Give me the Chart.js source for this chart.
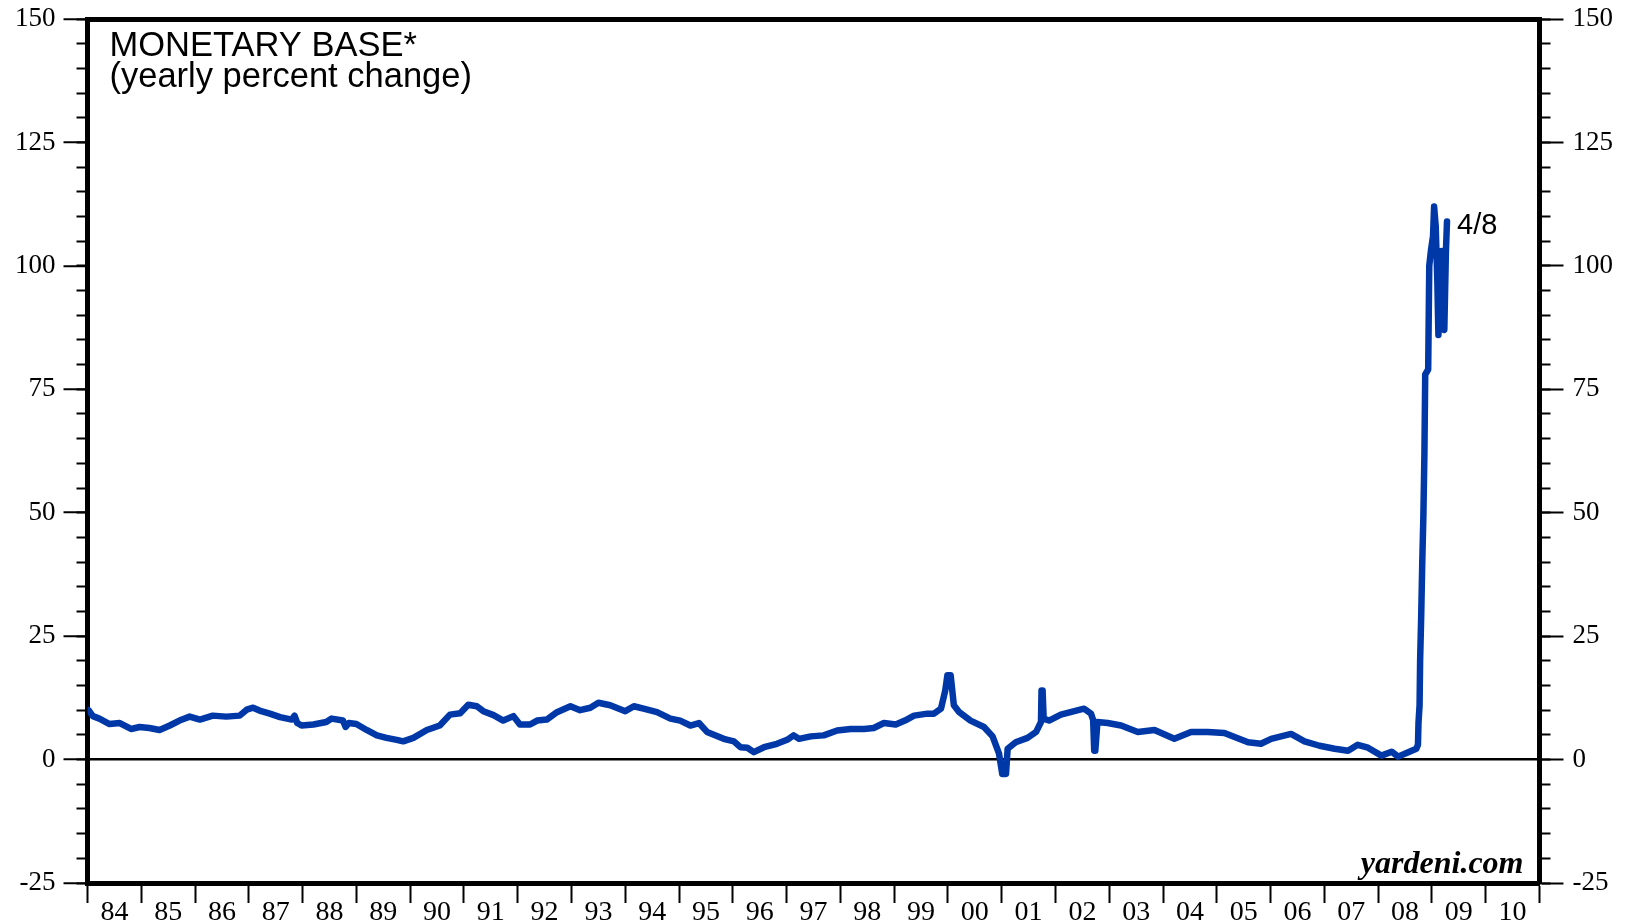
<!DOCTYPE html>
<html>
<head>
<meta charset="utf-8">
<script src="https://cdn.jsdelivr.net/npm/chart.js@4.4.1/dist/chart.umd.min.js"></script>
<style>
  html, body { margin: 0; padding: 0; background: #ffffff; }
  #wrap { width: 1630px; height: 924px; }
</style>
</head>
<body>
<div id="wrap"><canvas id="c" width="1630" height="924"></canvas></div>
<script>
// ---- Data ----
const titleLine1 = "MONETARY BASE*";
const titleLine2 = "(yearly percent change)";
const lastLabel = "4/8";
const sourceLabel = "yardeni.com";

const yearStarts = [1984,1985,1986,1987,1988,1989,1990,1991,1992,1993,1994,1995,1996,1997,
                    1998,1999,2000,2001,2002,2003,2004,2005,2006,2007,2008,2009,2010];
const yearLabels = ["84","85","86","87","88","89","90","91","92","93","94","95","96","97",
                    "98","99","00","01","02","03","04","05","06","07","08","09","10"];
const yTickStep = 25;
const yMinorStep = 5;
const yMin = -25;
const yMax = 150;

// decimal-year dates and yearly percent change of the monetary base
const dates = [
  1984.02,1984.10,1984.22,1984.41,1984.60,1984.81,1984.97,1985.15,1985.34,1985.53,
  1985.71,1985.90,1986.09,1986.33,1986.58,1986.83,1986.96,1987.08,1987.23,1987.39,
  1987.58,1987.80,1987.85,1987.90,1987.98,1988.20,1988.44,1988.54,1988.75,1988.80,
  1988.86,1989.00,1989.19,1989.38,1989.56,1989.75,1989.87,1990.06,1990.31,1990.55,
  1990.74,1990.93,1991.08,1991.24,1991.36,1991.55,1991.73,1991.92,1992.04,1992.23,
  1992.36,1992.54,1992.73,1992.98,1993.16,1993.35,1993.50,1993.72,1994.00,1994.16,
  1994.34,1994.59,1994.84,1995.02,1995.21,1995.37,1995.52,1995.83,1996.02,1996.14,
  1996.27,1996.39,1996.58,1996.82,1997.01,1997.13,1997.23,1997.45,1997.69,1997.94,
  1998.19,1998.44,1998.62,1998.81,1999.03,1999.20,1999.37,1999.62,1999.74,1999.87,
  1999.95,1999.99,2000.05,2000.11,2000.21,2000.42,2000.67,2000.83,2000.95,2001.01,
  2001.08,2001.11,2001.26,2001.48,2001.64,2001.73,2001.74,2001.76,2001.78,2001.88,
  2002.10,2002.35,2002.53,2002.66,2002.70,2002.72,2002.74,2002.78,2002.97,2003.22,
  2003.53,2003.84,2004.21,2004.52,2004.83,2005.14,2005.58,2005.82,2006.01,2006.38,
  2006.63,2006.91,2007.19,2007.44,2007.62,2007.81,2008.06,2008.25,2008.37,2008.56,
  2008.71,2008.74,2008.75,2008.77,2008.78,2008.80,2008.82,2008.84,2008.86,2008.875,
  2008.93,2008.95,2008.98,2009.02,2009.04,2009.07,2009.10,2009.12,2009.15,2009.18,
  2009.21,2009.23,2009.26,2009.28
];
const values = [
  10.0,8.8,8.3,7.2,7.4,6.2,6.6,6.4,6.0,6.9,
  7.9,8.7,8.1,8.9,8.7,8.9,10.1,10.5,9.8,9.3,
  8.6,8.1,8.9,7.4,6.9,7.1,7.6,8.3,7.9,6.6,
  7.4,7.2,6.0,4.9,4.4,4.0,3.7,4.4,6.0,6.9,
  9.1,9.4,11.1,10.8,9.8,9.0,7.9,8.8,7.1,7.1,
  7.9,8.1,9.6,10.8,10.0,10.5,11.5,11.0,9.8,10.8,
  10.3,9.6,8.3,7.9,6.9,7.4,5.6,4.2,3.7,2.5,
  2.4,1.5,2.5,3.2,4.0,4.9,4.2,4.7,4.9,5.9,
  6.2,6.2,6.4,7.4,7.1,7.9,8.9,9.3,9.3,10.3,
  14.0,17.1,17.1,11.0,9.6,7.9,6.6,4.7,1.2,-2.9,
  -2.9,2.2,3.5,4.4,5.6,7.6,14.0,14.0,8.3,7.9,
  9.1,9.8,10.3,9.3,8.0,1.8,1.8,7.6,7.4,6.9,
  5.6,6.0,4.2,5.6,5.6,5.4,3.5,3.2,4.2,5.2,
  3.7,2.8,2.2,1.8,3.0,2.4,0.8,1.6,0.6,1.5,
  2.2,3.0,7.5,11,20,29,40,49,62,78,
  79,100,103,106,112,108,97,86,92,103,
  88,87,103,109
];

// ---- Chart ----
const points = dates.map((d, i) => ({ x: d, y: values[i] }));
const xTickValues = [];
yearStarts.forEach(y => { xTickValues.push(y); xTickValues.push(y + 0.5); });
xTickValues.push(yearStarts[yearStarts.length - 1] + 1);

const serif = "'Liberation Serif', 'Times New Roman', serif";
const sans = "'Liberation Sans', Arial, sans-serif";
const LEFT_W = 87.5, RIGHT_W = 90.5, TOP_H = 19, BOTTOM_H = 41;

function noPad(s) { s.paddingTop = 0; s.paddingBottom = 0; s.paddingLeft = 0; s.paddingRight = 0; }

const textPlugin = {
  id: 'texts',
  afterDraw(chart) {
    const ctx = chart.ctx;
    const ca = chart.chartArea;
    ctx.save();
    ctx.fillStyle = '#000';
    ctx.textAlign = 'left';
    ctx.textBaseline = 'alphabetic';
    ctx.font = "34.5px " + sans;
    ctx.fillText(titleLine1, ca.left + 22, 56);
    ctx.fillText(titleLine2, ca.left + 22, 87);
    // last-value label
    const meta = chart.getDatasetMeta(0);
    const last = meta.data[meta.data.length - 1];
    ctx.font = "29px " + sans;
    ctx.textBaseline = 'middle';
    ctx.fillText(lastLabel, last.x + 10, last.y + 5);
    // source
    ctx.font = "italic bold 32px " + serif;
    ctx.textAlign = 'right';
    ctx.textBaseline = 'alphabetic';
    ctx.fillText(sourceLabel, ca.right - 16, ca.bottom - 10);
    ctx.restore();
  }
};

new Chart(document.getElementById('c'), {
  type: 'line',
  data: {
    datasets: [{
      data: points,
      borderColor: '#0038A8',
      borderWidth: 6.5,
      pointRadius: 0,
      tension: 0,
      borderJoinStyle: 'round',
      borderCapStyle: 'round',
      xAxisID: 'x',
      yAxisID: 'y'
    }]
  },
  options: {
    responsive: false,
    animation: false,
    events: [],
    layout: { padding: 0 },
    plugins: { legend: { display: false }, tooltip: { enabled: false }, title: { display: false } },
    scales: {
      x: {
        type: 'linear', position: 'bottom',
        min: yearStarts[0], max: yearStarts[yearStarts.length - 1] + 1,
        afterBuildTicks: s => { s.ticks = xTickValues.map(v => ({ value: v })); },
        afterFit: s => { s.height = BOTTOM_H; noPad(s); },
        ticks: {
          autoSkip: false, maxRotation: 0, minRotation: 0,
          color: '#000', padding: -7,
          font: { family: serif, size: 28 },
          callback: v => Number.isInteger(v) ? '' : yearLabels[Math.floor(v) - yearStarts[0]]
        },
        grid: {
          drawOnChartArea: false, drawTicks: true, tickLength: 20, tickWidth: 2,
          tickColor: c => (c.tick && Number.isInteger(c.tick.value)) ? '#000' : 'rgba(0,0,0,0)'
        },
        border: { display: true, color: '#000', width: 5 }
      },
      xTop: {
        type: 'linear', position: 'top',
        min: yearStarts[0], max: yearStarts[yearStarts.length - 1] + 1,
        afterFit: s => { s.height = TOP_H; noPad(s); },
        ticks: { display: false },
        grid: { drawOnChartArea: false, drawTicks: false },
        border: { display: true, color: '#000', width: 5 }
      },
      y: {
        type: 'linear', position: 'left', weight: 1,
        min: yMin, max: yMax,
        afterFit: s => { s.width = LEFT_W; noPad(s); },
        ticks: { stepSize: yTickStep, color: '#000', padding: 8, font: { family: serif, size: 27 } },
        grid: {
          drawOnChartArea: true, drawTicks: true, tickLength: 24, tickWidth: 2, tickColor: '#000',
          lineWidth: 2.5,
          color: c => (c.tick && c.tick.value === 0) ? '#000' : 'rgba(0,0,0,0)'
        },
        border: { display: true, color: '#000', width: 5 }
      },
      yMinor: {
        type: 'linear', position: 'left', weight: 0,
        min: yMin, max: yMax,
        afterFit: s => { s.width = 0; noPad(s); },
        ticks: { stepSize: yMinorStep, display: false },
        grid: { drawOnChartArea: false, drawTicks: true, tickLength: 11, tickWidth: 2, tickColor: '#000' },
        border: { display: false }
      },
      y2: {
        type: 'linear', position: 'right', weight: 1,
        min: yMin, max: yMax,
        afterFit: s => { s.width = RIGHT_W; noPad(s); },
        ticks: { stepSize: yTickStep, color: '#000', padding: 9, font: { family: serif, size: 27 } },
        grid: { drawOnChartArea: false, drawTicks: true, tickLength: 24, tickWidth: 2, tickColor: '#000' },
        border: { display: true, color: '#000', width: 5 }
      },
      y2Minor: {
        type: 'linear', position: 'right', weight: 0,
        min: yMin, max: yMax,
        afterFit: s => { s.width = 0; noPad(s); },
        ticks: { stepSize: yMinorStep, display: false },
        grid: { drawOnChartArea: false, drawTicks: true, tickLength: 11, tickWidth: 2, tickColor: '#000' },
        border: { display: false }
      }
    }
  },
  plugins: [textPlugin]
});
</script>
</body>
</html>
